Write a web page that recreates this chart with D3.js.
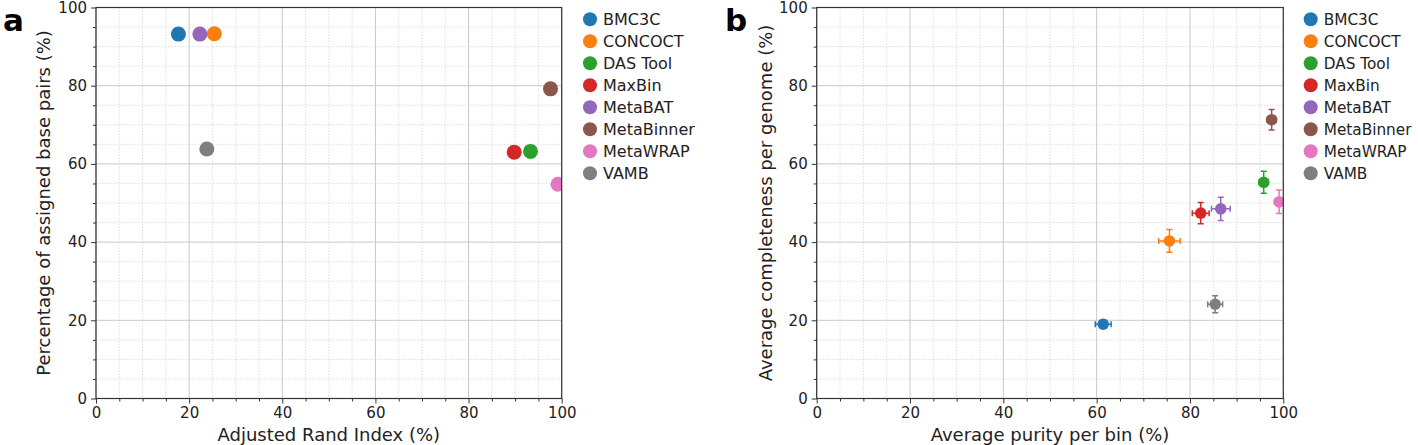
<!DOCTYPE html>
<html><head><meta charset="utf-8">
<script src="https://cdn.jsdelivr.net/npm/d3@7"></script>
<style>
html,body{margin:0;padding:0;background:#fff;}
svg{display:block;font-family:"DejaVu Sans",sans-serif;}
</style></head>
<body>
<svg id="chart" width="1418" height="445"></svg>
<script>
const methods = ["BMC3C","CONCOCT","DAS Tool","MaxBin","MetaBAT","MetaBinner","MetaWRAP","VAMB"];
const colors = ["#1f77b4","#ff7f0e","#2ca02c","#d62728","#9467bd","#8c564b","#e377c2","#7f7f7f"];
// Panel a
const ariValues = [17.7, 25.4, 93.3, 89.8, 22.3, 97.6, 99.2, 23.8];
const assignedBp = [93.2, 93.3, 63.2, 63.0, 93.2, 79.2, 54.8, 63.8];
// Panel b
const purity = [61.4, 75.6, 95.8, 82.3, 86.6, 97.5, 99.1, 85.4];
const purityErr = [1.7, 2.3, 1.0, 1.8, 2.0, 1.0, 1.0, 1.6];
const completeness = [19.0, 40.3, 55.3, 47.4, 48.5, 71.3, 50.3, 24.1];
const completenessErr = [1.0, 2.9, 2.8, 2.7, 3.0, 2.6, 3.0, 2.2];
const majorTicks = [0,20,40,60,80,100];
const minorTicks = d3.range(0,101,5);

const svg = d3.select("#chart");

function panel(cfg){
  const g = svg.append("g");
  const x = d3.scaleLinear().domain([0,100]).range([cfg.left, cfg.right]);
  const y = d3.scaleLinear().domain([0,100]).range([cfg.bottom, cfg.top]);
  const minors = minorTicks.filter(t=>t%20!==0);
  // minor grid
  g.append("g").selectAll("line").data(minors).join("line")
    .attr("x1",d=>x(d)).attr("x2",d=>x(d)).attr("y1",cfg.top).attr("y2",cfg.bottom)
    .attr("stroke","#d6d6d6").attr("stroke-width",0.8).attr("stroke-dasharray","1.5,1.5");
  g.append("g").selectAll("line").data(minors).join("line")
    .attr("y1",d=>y(d)).attr("y2",d=>y(d)).attr("x1",cfg.left).attr("x2",cfg.right)
    .attr("stroke","#d6d6d6").attr("stroke-width",0.8).attr("stroke-dasharray","1.5,1.5");
  // major grid
  g.append("g").selectAll("line").data(majorTicks).join("line")
    .attr("x1",d=>x(d)).attr("x2",d=>x(d)).attr("y1",cfg.top).attr("y2",cfg.bottom)
    .attr("stroke","#c8c8c8").attr("stroke-width",1);
  g.append("g").selectAll("line").data(majorTicks).join("line")
    .attr("y1",d=>y(d)).attr("y2",d=>y(d)).attr("x1",cfg.left).attr("x2",cfg.right)
    .attr("stroke","#c8c8c8").attr("stroke-width",1);

  // clip
  const cid = "clip"+cfg.id;
  svg.append("defs").append("clipPath").attr("id",cid).append("rect")
    .attr("x",cfg.left).attr("y",cfg.top).attr("width",cfg.right-cfg.left).attr("height",cfg.bottom-cfg.top);
  const marks = g.append("g").attr("clip-path",`url(#${cid})`);
  const idx = d3.range(methods.length);
  if(cfg.xerr){
    const cap = 3;
    const eb = marks.selectAll("g.eb").data(idx).join("g").attr("stroke",i=>colors[i]).attr("stroke-width",1.5);
    eb.append("line").attr("x1",i=>x(cfg.xs[i]-cfg.xerr[i])).attr("x2",i=>x(cfg.xs[i]+cfg.xerr[i]))
      .attr("y1",i=>y(cfg.ys[i])).attr("y2",i=>y(cfg.ys[i]));
    eb.append("line").attr("y1",i=>y(cfg.ys[i]-cfg.yerr[i])).attr("y2",i=>y(cfg.ys[i]+cfg.yerr[i]))
      .attr("x1",i=>x(cfg.xs[i])).attr("x2",i=>x(cfg.xs[i]));
    [-1,1].forEach(s=>{
      eb.append("line").attr("x1",i=>x(cfg.xs[i]+s*cfg.xerr[i])).attr("x2",i=>x(cfg.xs[i]+s*cfg.xerr[i]))
        .attr("y1",i=>y(cfg.ys[i])-cap).attr("y2",i=>y(cfg.ys[i])+cap);
      eb.append("line").attr("y1",i=>y(cfg.ys[i]+s*cfg.yerr[i])).attr("y2",i=>y(cfg.ys[i]+s*cfg.yerr[i]))
        .attr("x1",i=>x(cfg.xs[i])-cap).attr("x2",i=>x(cfg.xs[i])+cap);
    });
  }
  marks.selectAll("circle").data(idx).join("circle")
    .attr("cx",i=>x(cfg.xs[i])).attr("cy",i=>y(cfg.ys[i])).attr("r",cfg.r).attr("fill",i=>colors[i]);

  // spines
  g.append("rect").attr("x",cfg.left).attr("y",cfg.top).attr("width",cfg.right-cfg.left).attr("height",cfg.bottom-cfg.top)
    .attr("fill","none").attr("stroke","#333").attr("stroke-width",1.2);

  // axes
  const xa = g.append("g").attr("transform",`translate(0,${cfg.bottom})`)
    .call(d3.axisBottom(x).tickValues(majorTicks).tickSize(5).tickPadding(4).tickFormat(d3.format("d")));
  const xm = g.append("g").attr("transform",`translate(0,${cfg.bottom})`)
    .call(d3.axisBottom(x).tickValues(minors).tickSize(3).tickFormat(""));
  const ya = g.append("g").attr("transform",`translate(${cfg.left},0)`)
    .call(d3.axisLeft(y).tickValues(majorTicks).tickSize(5).tickPadding(4).tickFormat(d3.format("d")));
  const ym = g.append("g").attr("transform",`translate(${cfg.left},0)`)
    .call(d3.axisLeft(y).tickValues(minors).tickSize(3).tickFormat(""));
  [xa,xm,ya,ym].forEach(a=>{
    a.select(".domain").remove();
    a.selectAll("line").attr("stroke","#333").attr("stroke-width",1);
    a.selectAll("text").attr("font-family","DejaVu Sans").attr("font-size",15).attr("fill","#222");
  });

  // labels
  g.append("text").attr("x",(cfg.left+cfg.right)/2).attr("y",441).attr("text-anchor","middle")
    .attr("font-size",18).attr("fill","#222").text(cfg.xlabel);
  g.append("text").attr("transform",`translate(${cfg.ylabX},${(cfg.top+cfg.bottom)/2}) rotate(-90)`)
    .attr("text-anchor","middle").attr("font-size",18).attr("fill","#222").text(cfg.ylabel);
  g.append("text").attr("x",cfg.letterX).attr("y",31).attr("font-size",31).attr("font-weight","bold")
    .attr("fill","#000").text(cfg.letter);

  // legend
  const lg = g.append("g").selectAll("g").data(idx).join("g")
    .attr("transform",i=>`translate(${cfg.legX},${19.3 + i*22})`);
  lg.append("circle").attr("r",7).attr("fill",i=>colors[i]);
  lg.append("text").attr("x",13).attr("dy","0.35em").attr("font-size",cfg.legFont).attr("fill","#222").text(i=>methods[i]);
}

panel({id:"a", left:96, right:561.7, top:7.5, bottom:398.5, xs:ariValues, ys:assignedBp, r:7.5,
  xlabel:"Adjusted Rand Index (%)", ylabel:"Percentage of assigned base pairs (%)", ylabX:50,
  letter:"a", letterX:3, legX:590, legFont:16});
panel({id:"b", left:816.7, right:1283.3, top:7.5, bottom:398.5, xs:purity, ys:completeness, r:5.8,
  xerr:purityErr, yerr:completenessErr,
  xlabel:"Average purity per bin (%)", ylabel:"Average completeness per genome (%)", ylabX:772,
  letter:"b", letterX:725, legX:1310.7, legFont:15.3});
</script>
</body></html>
